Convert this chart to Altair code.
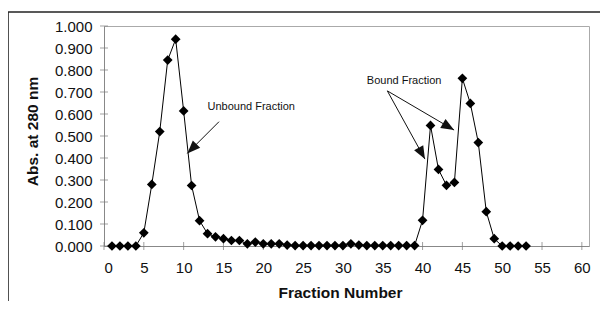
import math
import altair as alt
import pandas as pd

# ---- data ----
fraction = list(range(1, 54))
absorbance = [0.000, 0.000, 0.000, 0.000, 0.060, 0.280, 0.520, 0.845, 0.940, 0.614,
              0.275, 0.115, 0.056, 0.042, 0.033, 0.025, 0.025, 0.010, 0.018, 0.010,
              0.010, 0.010, 0.004, 0.002, 0.002, 0.002, 0.002, 0.002, 0.002, 0.002,
              0.010, 0.004, 0.002, 0.002, 0.002, 0.002, 0.002, 0.002, 0.002, 0.117,
              0.548, 0.348, 0.276, 0.289, 0.762, 0.648, 0.470, 0.156, 0.033, 0.000,
              0.000, 0.000, 0.000]

x_ticks = [0, 5, 10, 15, 20, 25, 30, 35, 40, 45, 50, 55, 60]
y_ticks = [0.0, 0.1, 0.2, 0.3, 0.4, 0.5, 0.6, 0.7, 0.8, 0.9, 1.0]

label_text = ["Unbound Fraction", "Bound Fraction"]
label_x = [13.0, 33.0]
label_y = [0.632, 0.751]

arrow_x1 = [14.44, 35.58, 35.58]
arrow_y1 = [0.565, 0.705, 0.705]
arrow_x2 = [10.46, 40.3, 43.96]
arrow_y2 = [0.421, 0.395, 0.527]

# outer figure frame (data units, outside the plotted range)
frame_x1 = [-12.05, -12.05]
frame_y1 = [1.0636, 1.0636]
frame_x2 = [63.2, -12.05]
frame_y2 = [1.0636, -0.40]

X_MAX = 60.9
W, H = 485, 220
FONT = "Liberation Sans"

df = pd.DataFrame({"fraction": fraction, "abs": absorbance})
xt = pd.DataFrame({"x": x_ticks, "y": [0] * len(x_ticks)})
yt = pd.DataFrame({"y": y_ticks, "x": [0] * len(y_ticks)})
labels = pd.DataFrame({"t": label_text, "x": label_x, "y": label_y})
arrows = pd.DataFrame({"x1": arrow_x1, "y1": arrow_y1, "x2": arrow_x2, "y2": arrow_y2})
frame_df = pd.DataFrame({"x1": frame_x1, "y1": frame_y1, "x2": frame_x2, "y2": frame_y2})

kx, ky = W / X_MAX, H / 1.0
angles = []
for a in arrows.itertuples():
    ux = (a.x1 - a.x2) * kx
    uy = -(a.y1 - a.y2) * ky
    ang = math.degrees(math.atan2(-ux, uy)) % 360
    angles.append(ang)
arrows["angle"] = angles

xs = alt.Scale(domain=[0, X_MAX], nice=False, zero=False)
ys = alt.Scale(domain=[0, 1.0], nice=False)

xa = alt.Axis(values=x_ticks, title="Fraction Number", ticks=False,
              grid=False, labelPadding=14, labelOverlap=False,
              titleX=236, titleY=51.5, titleBaseline="alphabetic",
              titleAnchor="start", titleAlign="center")
ya = alt.Axis(values=y_ticks, format=".3f", title="Abs. at 280 nm",
              ticks=False, grid=False, labelPadding=12, labelOverlap=False,
              titleX=-72, titleY=105, titleAngle=270,
              titleAlign="center", titleBaseline="middle", titleAnchor="start")


def X(f):
    return alt.X(f, scale=xs, axis=xa, title="Fraction Number")


def Y(f):
    return alt.Y(f, scale=ys, axis=ya, title="Abs. at 280 nm")


base = alt.Chart(df)

line = base.mark_line(color="black", strokeWidth=1).encode(
    x=X("fraction:Q"), y=Y("abs:Q"))
points = base.mark_point(shape="diamond", filled=True, color="black", size=95,
                         opacity=1).encode(x=X("fraction:Q"), y=Y("abs:Q"))

xtick = alt.Chart(xt).mark_tick(orient="vertical", size=8, thickness=1,
                                color="#777").encode(x=X("x:Q"), y=Y("y:Q"))
ytick = alt.Chart(yt).mark_tick(orient="horizontal", size=8, thickness=1,
                                color="#777").encode(x=X("x:Q"), y=Y("y:Q"))

seg = alt.Chart(arrows).mark_rule(color="#111", strokeWidth=1).encode(
    x=X("x1:Q"), y=Y("y1:Q"), x2="x2:Q", y2="y2:Q")
heads = alt.Chart(arrows).mark_point(
    shape="M0,0L0.8,2L-0.8,2Z", filled=True, color="#111", size=169, opacity=1
).encode(x=X("x2:Q"), y=Y("y2:Q"), angle=alt.Angle("angle:Q", scale=None))

texts = alt.Chart(labels).mark_text(align="left", baseline="middle", font=FONT,
                                    fontSize=11, color="#111").encode(
    x=X("x:Q"), y=Y("y:Q"), text="t:N")

frame = alt.Chart(frame_df).mark_rule(color="#222", strokeWidth=1.5).encode(
    x=X("x1:Q"), y=Y("y1:Q"), x2="x2:Q", y2="y2:Q")

chart = alt.layer(line, frame, xtick, ytick, points, seg, heads,
                  texts).properties(
    width=W, height=H,
    autosize=alt.AutoSizeParams(type="none"),
    padding={"left": 96, "top": 18, "right": 11, "bottom": 55},
    background="white",
).configure_view(stroke="#aaa", strokeWidth=1).configure_axis(
    domainColor="#888", domainWidth=1, labelOverlap=False,
    labelFont=FONT, labelFontSize=15, labelColor="#111",
    titleFont=FONT, titleFontSize=15.5, titleFontWeight="bold", titleColor="#111",
)

chart.save("out.html", embed_options={"renderer": "svg", "actions": False})
